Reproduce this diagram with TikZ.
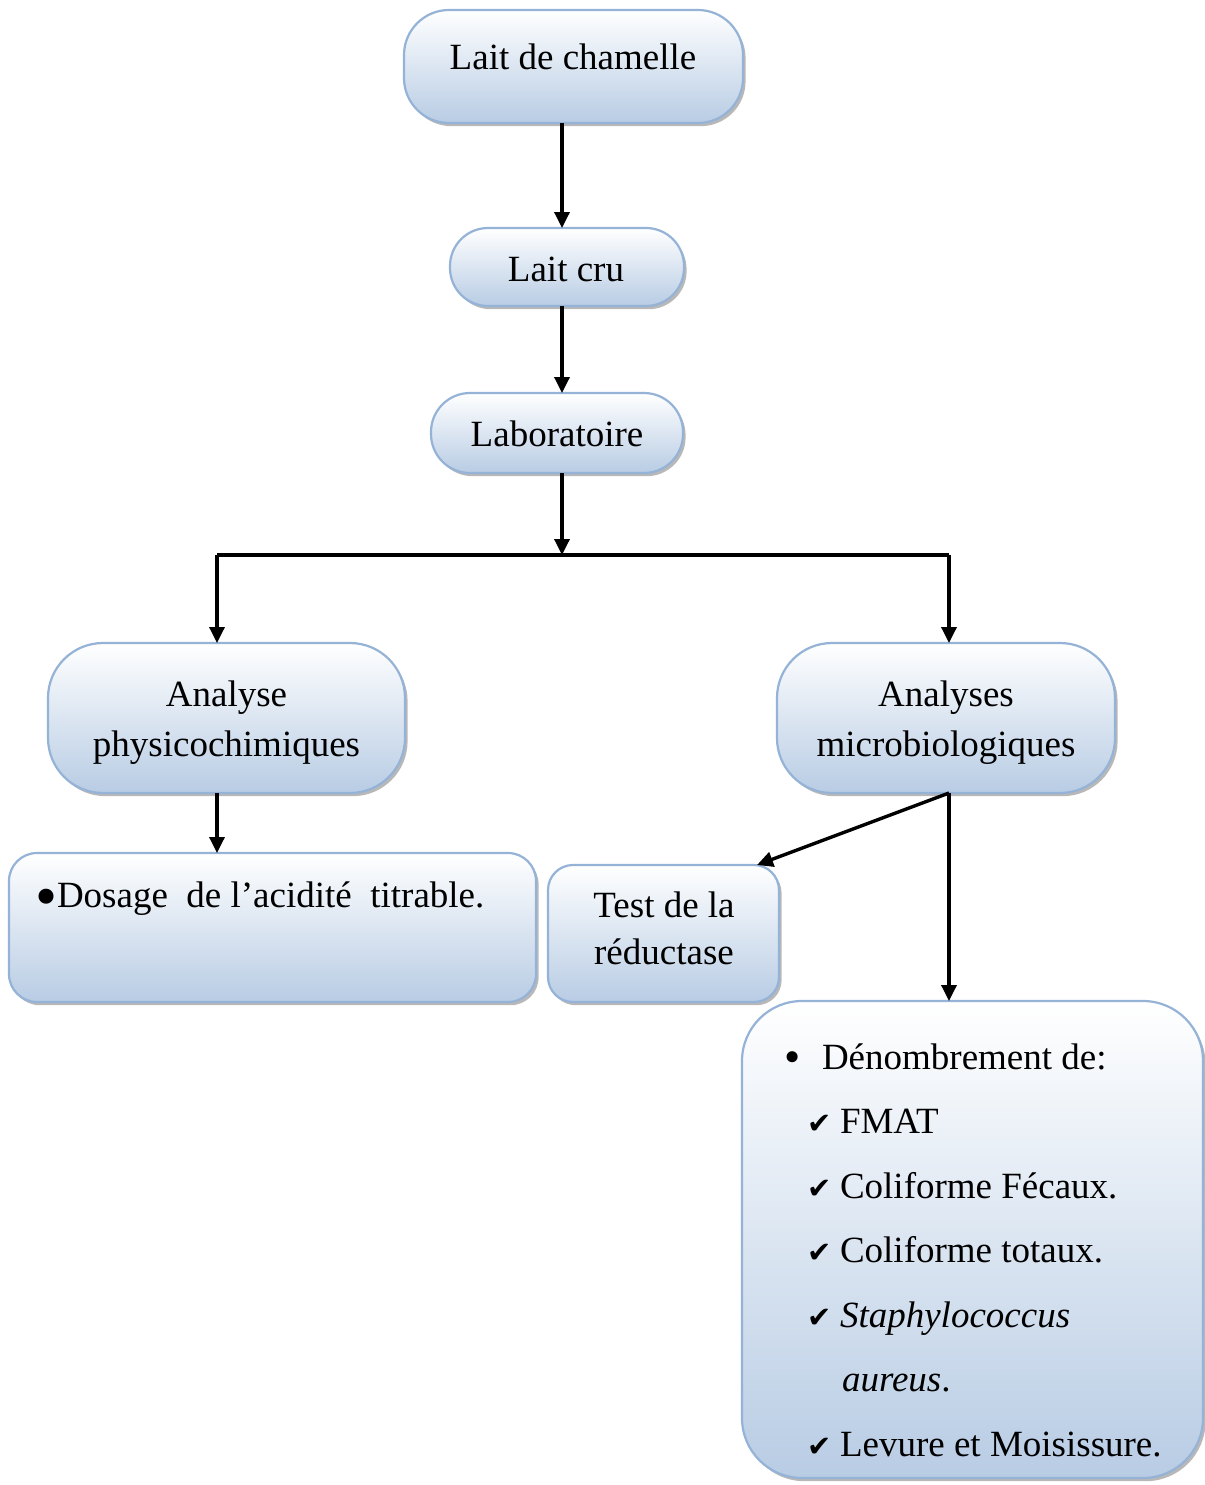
\documentclass[tikz,border=0pt]{standalone}
\usepackage{fontspec}
\setmainfont{Liberation Serif}
\newfontfamily\symf{DejaVu Sans}
\usetikzlibrary{arrows.meta,shadows,calc}
\definecolor{boxbord}{RGB}{149,179,215}
\definecolor{boxbot}{RGB}{184,204,228}
\newcommand\chk{{\symf\fontsize{14.5}{14.5}\selectfont ✔}}
\newcommand\bigbul{\raisebox{-5pt}{\scalebox{1.7}{•}}}
\begin{document}
\begin{tikzpicture}[x=0.5pt,y=-0.5pt,
  box/.style={draw=boxbord, line width=1.1pt, top color=white, bottom color=boxbot,
    inner sep=0pt, outer sep=0pt,
    drop shadow={shadow xshift=1.3pt,shadow yshift=-1.6pt,fill=black!55,opacity=0.5}},
  txt/.style={font=\fontsize{18.5}{22}\selectfont, inner sep=0pt, outer sep=0pt, anchor=base},
  arr/.style={line width=1.7pt, -{Triangle[width=7.5pt,length=8pt]}},
  link/.style={line width=1.7pt}]
\fill[white] (0,0) rectangle (1205,1485);
\useasboundingbox (0,0) rectangle (1205,1485);

% boxes
\node[box, minimum width=169.5pt, minimum height=56.5pt, rounded corners=22.5pt] (lait) at (573.5,66.5) {};
\node[box, minimum width=117pt, minimum height=39pt, rounded corners=19pt] (cru) at (567,267) {};
\node[box, minimum width=126pt, minimum height=40pt, rounded corners=19.5pt] (lab) at (557,433) {};
\node[box, minimum width=178.5pt, minimum height=75pt, rounded corners=27.5pt] (phys) at (226.5,718) {};
\node[box, minimum width=169pt, minimum height=75pt, rounded corners=27.5pt] (micro) at (946,718) {};
\node[box, minimum width=263.5pt, minimum height=74.5pt, rounded corners=14pt] (dos) at (272.5,927.5) {};
\node[box, minimum width=115.5pt, minimum height=68.5pt, rounded corners=12.5pt] (test) at (663.5,933.5) {};
\node[box, minimum width=230.5pt, minimum height=238.5pt, rounded corners=30pt] (den) at (972.5,1239.5) {};

% texts
\node[txt] (laitT) at (573,69) {Lait de chamelle};
\node[txt] (cruT) at (566,281) {Lait cru};
\node[txt] (labT) at (557,446) {Laboratoire};
\node[txt, font=\fontsize{18.5}{25}\selectfont] (physT) at (226.5,756)
  {\begin{tabular}[b]{@{}c@{}}Analyse\\physicochimiques\end{tabular}};
\node[txt, font=\fontsize{18.5}{25}\selectfont] (microT) at (946,756)
  {\begin{tabular}[b]{@{}c@{}}Analyses\\microbiologiques\end{tabular}};
\node[txt, anchor=base west] (dosT) at (35,907)
  {\makebox[11pt][l]{\bigbul}Dosage\ \ de l’acidité\ \ titrable.};
\node[txt, font=\fontsize{18.5}{23.5}\selectfont] (testT) at (664,964)
  {\begin{tabular}[b]{@{}c@{}}Test de la\\réductase\end{tabular}};
\node[txt, anchor=base west, font=\fontsize{18.5}{32.25}\selectfont] (denT) at (784,1069)
  {\begin{tabular}[t]{@{}l@{}}
   \makebox[19pt][l]{\raisebox{-1.5pt}{\scalebox{1.25}{•}}}Dénombrement de:\\
   \hspace*{11.5pt}\makebox[16.5pt][l]{\chk}FMAT\\
   \hspace*{11.5pt}\makebox[16.5pt][l]{\chk}Coliforme Fécaux.\\
   \hspace*{11.5pt}\makebox[16.5pt][l]{\chk}Coliforme totaux.\\
   \hspace*{11.5pt}\makebox[16.5pt][l]{\chk}\textit{Staphylococcus}\\
   \hspace*{29pt}\textit{aureus}.\\
   \hspace*{11.5pt}\makebox[16.5pt][l]{\chk}Levure et Moisissure.
   \end{tabular}};

% connectors
\coordinate (ax) at (562,0);
\coordinate (j) at (562,555);
\coordinate (jl) at (217,555);
\coordinate (jr) at (949,555);
\draw[arr] (ax |- lait.south) -- (ax |- cru.north);
\draw[arr] (ax |- cru.south) -- (ax |- lab.north);
\draw[arr] (ax |- lab.south) -- (j);
\draw[link] (jl) -- (jr);
\draw[arr] (jl) -- (jl |- phys.north);
\draw[arr] (jr) -- (jr |- micro.north);
\draw[arr] (jl |- phys.south) -- (jl |- dos.north);
\draw[arr] (jr |- micro.south) -- ([xshift=-11pt]test.north east);
\draw[arr] (jr |- micro.south) -- (jr |- den.north);
\end{tikzpicture}
\end{document}
